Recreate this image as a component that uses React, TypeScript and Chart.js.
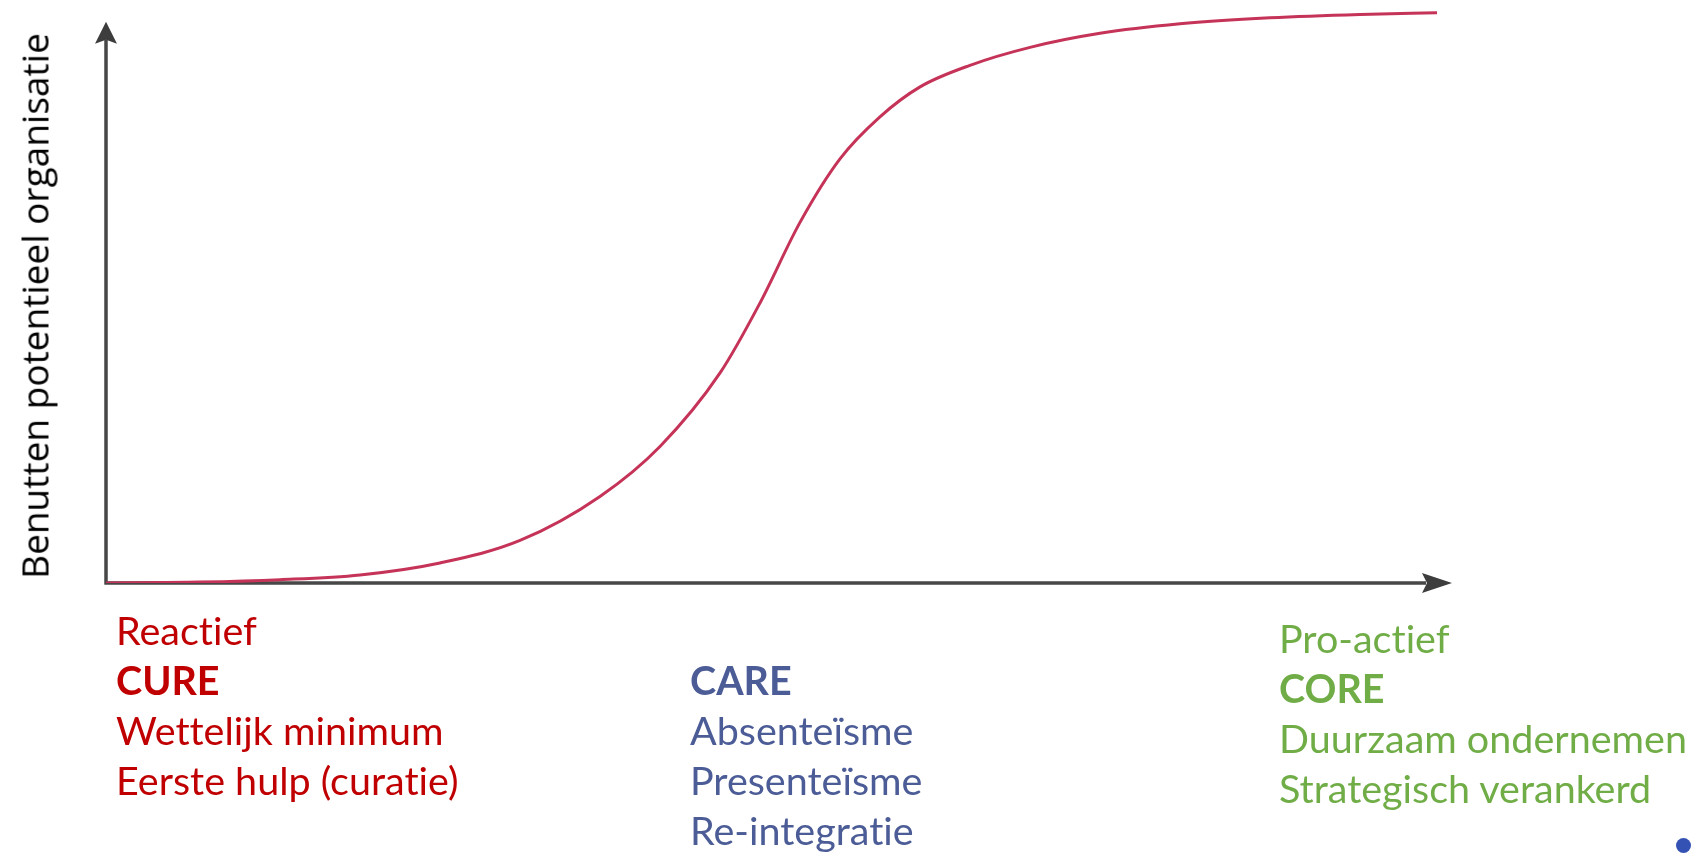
import React, { useEffect, useRef } from "react";
import { Chart, registerables } from "chart.js";

Chart.register(...registerables);

// S-curve (x: 0..100 along the horizontal axis, y: 0..100 up to the arrow tip)
const curveX = [0, 6.98, 12.93, 18.87, 24.81, 30.76, 36.70, 41.16, 45.62, 48.59, 51.56, 54.53, 57.50, 60.48, 64.19, 68.65, 73.85, 79.79, 86.48, 93.16, 98.89];
const curveY = [0, 0.16, 0.59, 1.44, 3.58, 7.58, 15.42, 24.33, 37.43, 49.91, 64.26, 75.58, 83.07, 88.41, 92.25, 95.45, 97.95, 99.64, 100.71, 101.32, 101.60];

const yAxisTitle = "Benutten potentieel organisatie";
const redLines = ["Reactief", "CURE", "Wettelijk minimum", "Eerste hulp (curatie)"];
const redBold = [1];
const blueLines = ["CARE", "Absenteïsme", "Presenteïsme", "Re-integratie"];
const blueBold = [0];
const greenLines = ["Pro-actief", "CORE", "Duurzaam ondernemen", "Strategisch verankerd"];
const greenBold = [1];

const W = 1695;
const H = 856;

const arrowAxes = {
  id: "arrowAxes",
  beforeDatasetsDraw(chart: any) {
    const ctx = chart.ctx;
    const xs = chart.scales.x;
    const ys = chart.scales.y;
    const x0 = xs.getPixelForValue(0);
    const x1 = xs.getPixelForValue(100);
    const y0 = ys.getPixelForValue(0);
    const y1 = ys.getPixelForValue(100);
    ctx.save();
    ctx.strokeStyle = "#474747";
    ctx.fillStyle = "#3d3d3d";
    ctx.lineWidth = 3.5;
    ctx.lineCap = "butt";
    ctx.beginPath();
    ctx.moveTo(x0, y0 + 1.5);
    ctx.lineTo(x0, y1 + 18);
    ctx.moveTo(x0 - 1.5, y0);
    ctx.lineTo(x1 - 26, y0);
    ctx.stroke();
    // y arrow head
    ctx.beginPath();
    ctx.moveTo(x0, y1);
    ctx.lineTo(x0 + 11, y1 + 22);
    ctx.lineTo(x0, y1 + 18);
    ctx.lineTo(x0 - 11, y1 + 22);
    ctx.closePath();
    ctx.fill();
    // x arrow head
    ctx.beginPath();
    ctx.moveTo(x1, y0);
    ctx.lineTo(x1 - 30, y0 - 10);
    ctx.lineTo(x1 - 25, y0);
    ctx.lineTo(x1 - 30, y0 + 10);
    ctx.closePath();
    ctx.fill();
    ctx.restore();
  },
};

function Block({ lines, bold, color, left, top }: { lines: string[]; bold: number[]; color: string; left: number; top: number }) {
  return (
    <div
      style={{
        position: "absolute",
        left,
        top,
        color,
        fontFamily: "Lato, sans-serif",
        fontSize: 39.5,
        lineHeight: "50px",
        whiteSpace: "nowrap",
        fontVariantLigatures: "none",
        fontFeatureSettings: '"liga" 0, "clig" 0',
      }}
    >
      {lines.map((t, i) => (
        <div key={i} style={{ fontWeight: bold.includes(i) ? 700 : 400 }}>
          {t}
        </div>
      ))}
    </div>
  );
}

export default function App() {
  const ref = useRef<HTMLCanvasElement | null>(null);
  useEffect(() => {
    if (!ref.current) return;
    const chart = new Chart(ref.current, {
      type: "line",
      data: {
        datasets: [
          {
            data: curveX.map((x, i) => ({ x, y: curveY[i] })),
            borderColor: "#c53358",
            borderWidth: 3,
            pointRadius: 0,
            cubicInterpolationMode: "monotone",
            fill: false,
          },
        ],
      },
      options: {
        animation: false,
        responsive: false,
        events: [],
        layout: { padding: { left: 106, right: W - 1452, top: 5, bottom: H - 583 } },
        plugins: { legend: { display: false }, tooltip: { enabled: false }, title: { display: false } },
        scales: {
          x: { type: "linear", min: 0, max: 100, display: false },
          y: { type: "linear", min: 0, max: 103, display: false },
        },
      },
      plugins: [arrowAxes],
    });
    return () => chart.destroy();
  }, []);

  return (
    <div style={{ position: "fixed", left: 0, top: 0, width: W, height: H, background: "#fff", overflow: "hidden" }}>
      <canvas ref={ref} width={W} height={H} style={{ position: "absolute", left: 0, top: 0, width: W, height: H }} />
      <div
        style={{
          position: "absolute",
          left: 34,
          top: 306,
          transform: "translate(-50%, -50%) rotate(-90deg)",
          fontFamily: "'Open Sans', sans-serif",
          fontSize: 37,
          lineHeight: 1,
          color: "#000",
          whiteSpace: "nowrap",
        }}
      >
        {yAxisTitle}
      </div>
      <Block lines={redLines} bold={redBold} color="#c00000" left={116} top={605} />
      <Block lines={blueLines} bold={blueBold} color="#4b5c96" left={690} top={655} />
      <Block lines={greenLines} bold={greenBold} color="#70ad47" left={1279} top={613} />
      <div style={{ position: "absolute", left: 1676, top: 838, width: 15, height: 15, borderRadius: "50%", background: "#3452b4" }} />
    </div>
  );
}
